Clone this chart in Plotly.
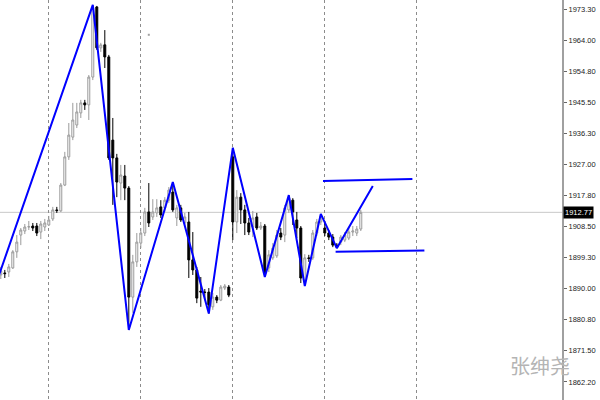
import plotly.graph_objects as go

# ---- candle data (hourly bars, index 0..90) ----
bar_index = list(range(91))
opens = [1894.1, 1894.7, 1895.0, 1896.2, 1901.0, 1906.0, 1907.2, 1908.4, 1908.7, 1908.7,
         1906.9, 1908.4, 1909.0, 1910.8, 1913.5, 1913.2, 1920.9, 1929.3, 1935.2, 1938.8,
         1942.4, 1945.4, 1944.8, 1953.1, 1974.0, 1961.8, 1962.7, 1959.1, 1934.3, 1929.0,
         1921.5, 1923.6, 1920.0, 1887.5, 1898.0, 1903.6, 1906.6, 1912.9, 1911.4, 1912.6,
         1914.4, 1914.1, 1916.4, 1918.8, 1911.1, 1914.1, 1909.6, 1909.9, 1898.6, 1895.6,
         1889.3, 1889.0, 1889.0, 1884.6, 1887.5, 1886.6, 1890.2, 1890.5, 1929.3, 1909.9,
         1917.3, 1913.5, 1909.6, 1908.4, 1911.4, 1908.1, 1908.7, 1896.2, 1899.2, 1899.8,
         1906.6, 1906.0, 1913.5, 1916.4, 1910.5, 1908.1, 1892.6, 1899.2, 1899.2, 1906.6,
         1909.9, 1908.1, 1906.6, 1905.4, 1903.0, 1903.9, 1904.5, 1905.1, 1906.9, 1906.6,
         1907.8]
highs = [1896.5, 1895.6, 1897.4, 1901.5, 1906.0, 1908.1, 1909.3, 1910.2, 1909.6, 1909.6,
         1910.2, 1910.8, 1911.7, 1914.4, 1914.4, 1921.5, 1930.8, 1939.4, 1945.4, 1945.4,
         1946.3, 1946.3, 1953.7, 1974.6, 1974.3, 1963.3, 1967.1, 1959.7, 1940.9, 1930.2,
         1926.9, 1926.9, 1920.6, 1900.1, 1906.6, 1908.1, 1914.1, 1921.5, 1916.7, 1916.7,
         1916.4, 1917.3, 1920.3, 1921.8, 1915.0, 1915.0, 1912.6, 1912.9, 1906.9, 1896.5,
         1893.5, 1889.9, 1890.2, 1888.7, 1888.1, 1891.1, 1891.4, 1891.1, 1932.0, 1919.4,
         1918.5, 1915.0, 1911.1, 1913.2, 1912.6, 1909.9, 1909.3, 1901.5, 1903.6, 1907.5,
         1908.1, 1915.0, 1917.9, 1917.0, 1912.9, 1908.7, 1900.3, 1900.1, 1907.5, 1910.8,
         1912.3, 1910.2, 1907.5, 1906.3, 1903.6, 1906.0, 1906.9, 1908.4, 1908.7, 1908.7,
         1913.5]
lows = [1892.9, 1893.2, 1893.5, 1895.9, 1899.2, 1903.0, 1906.3, 1907.5, 1907.2, 1905.7,
        1904.8, 1907.2, 1908.7, 1910.2, 1912.6, 1912.9, 1920.6, 1928.4, 1934.3, 1937.9,
        1940.9, 1943.3, 1940.3, 1952.2, 1961.2, 1960.6, 1955.8, 1928.4, 1915.0, 1917.3,
        1916.4, 1916.4, 1877.7, 1882.8, 1896.5, 1902.1, 1905.7, 1908.4, 1910.5, 1911.4,
        1911.1, 1912.9, 1915.6, 1912.9, 1908.7, 1909.9, 1908.7, 1893.2, 1894.1, 1885.7,
        1884.6, 1886.6, 1882.6, 1883.7, 1885.7, 1886.3, 1889.6, 1887.5, 1904.5, 1906.6,
        1909.3, 1906.0, 1906.0, 1905.4, 1907.5, 1907.5, 1893.5, 1895.0, 1898.6, 1899.2,
        1904.5, 1903.9, 1912.6, 1909.0, 1905.1, 1891.7, 1890.8, 1898.0, 1898.6, 1905.7,
        1909.0, 1905.7, 1904.5, 1902.4, 1902.1, 1903.0, 1903.9, 1904.5, 1905.7, 1905.7,
        1907.2]
closes = [1895.3, 1894.5, 1896.5, 1901.0, 1903.9, 1907.5, 1908.4, 1908.5, 1908.1, 1906.6,
          1909.3, 1909.6, 1910.5, 1913.5, 1913.3, 1920.9, 1929.3, 1935.8, 1940.3, 1942.7,
          1945.4, 1944.8, 1953.1, 1973.7, 1961.8, 1962.7, 1959.1, 1929.0, 1929.0, 1921.8,
          1923.9, 1920.0, 1887.5, 1898.0, 1903.9, 1906.6, 1912.9, 1909.6, 1912.9, 1914.1,
          1912.0, 1916.4, 1919.4, 1913.5, 1914.1, 1910.5, 1911.4, 1898.6, 1895.6, 1887.2,
          1889.0, 1888.9, 1885.2, 1887.5, 1886.6, 1890.5, 1890.8, 1888.1, 1909.9, 1917.3,
          1913.5, 1909.6, 1906.9, 1911.1, 1908.1, 1908.7, 1894.7, 1900.1, 1902.1, 1906.0,
          1905.4, 1914.1, 1917.0, 1912.9, 1908.1, 1893.2, 1899.2, 1899.0, 1906.6, 1909.9,
          1911.7, 1906.6, 1905.4, 1903.0, 1902.4, 1905.4, 1906.0, 1906.9, 1907.2, 1907.8,
          1912.77]

# ---- zigzag and channel lines ----
zz_index = [-3, 23, 32, 43, 52, 58, 66, 72, 76, 80, 84, 93]
zz_price = [1885.3, 1974.6, 1877.7, 1921.8, 1882.6, 1932.0, 1893.5, 1917.9, 1890.8, 1912.3, 1902.1, 1920.6]
upper_index = [80.55, 102.9]
upper_price = [1922.1, 1922.7]
lower_index = [83.7, 105.9]
lower_price = [1901.0, 1901.4]
dot_index = [37]
dot_price = [1965.7]

current_price = 1912.77
day_starts = [12, 35, 58, 81, 104]
y_ticks = [1973.30, 1964.00, 1954.80, 1945.50, 1936.30, 1927.00, 1917.80,
           1908.50, 1899.30, 1890.00, 1880.80, 1871.50, 1862.20]
y_labels = ["%.2f" % v for v in y_ticks]

fig = go.Figure()
fig.add_trace(go.Candlestick(
    x=bar_index, open=opens, high=highs, low=lows, close=closes,
    increasing=dict(line=dict(color="#9a9a9a", width=1), fillcolor="#ffffff"),
    decreasing=dict(line=dict(color="#000000", width=1), fillcolor="#000000"),
    whiskerwidth=0, hoverinfo="skip", showlegend=False))
fig.add_trace(go.Scatter(x=zz_index, y=zz_price, mode="lines",
                         line=dict(color="#0000ff", width=2), hoverinfo="skip", showlegend=False))
fig.add_trace(go.Scatter(x=upper_index, y=upper_price, mode="lines",
                         line=dict(color="#0000ff", width=2), hoverinfo="skip", showlegend=False))
fig.add_trace(go.Scatter(x=lower_index, y=lower_price, mode="lines",
                         line=dict(color="#0000ff", width=2), hoverinfo="skip", showlegend=False))
fig.add_trace(go.Scatter(x=dot_index, y=dot_price, mode="markers",
                         marker=dict(color="#a0a0a0", size=2, symbol="square"),
                         hoverinfo="skip", showlegend=False))

fig.add_shape(type="line", xref="paper", x0=0, x1=1, yref="y", y0=current_price, y1=current_price,
              line=dict(color="#c8c8c8", width=1), layer="below")

fig.add_annotation(xref="paper", x=1.0, xanchor="left", xshift=1, yref="y", y=current_price,
                   text="%.2f" % current_price, showarrow=False, bgcolor="#000000",
                   font=dict(family="Liberation Sans", size=7.5, color="#ffffff"), borderpad=1)
fig.add_annotation(xref="paper", x=0.961, xanchor="center", yref="paper", y=0.0875,
                   yanchor="middle", text="张绅尧", showarrow=False,
                   font=dict(family="Noto Sans CJK SC", size=20, color="#b4b4b4"))

fig.update_layout(
    width=600, height=400,
    margin=dict(l=0, r=38, t=0, b=0),
    paper_bgcolor="#ffffff", plot_bgcolor="#ffffff",
    showlegend=False,
    xaxis=dict(range=[-0.2, 140.3], rangeslider=dict(visible=False), tickmode="array",
               tickvals=day_starts, showticklabels=False, ticks="", showgrid=True,
               gridcolor="#8c8c8c", griddash="dot", gridwidth=1, zeroline=False, showline=False),
    yaxis=dict(side="right", range=[1856.83, 1976.07], tickmode="array", tickvals=y_ticks,
               ticktext=y_labels, ticks="outside", ticklen=3, tickcolor="#666666",
               showline=True, linecolor="#a0a0a0", linewidth=2, showgrid=False, zeroline=False,
               tickfont=dict(family="Liberation Sans", size=7.5, color="#222222")),
)

fig.write_html("out.html", config={"displayModeBar": False},
               post_script="document.body.style.margin='0';document.body.style.overflow='hidden';")
